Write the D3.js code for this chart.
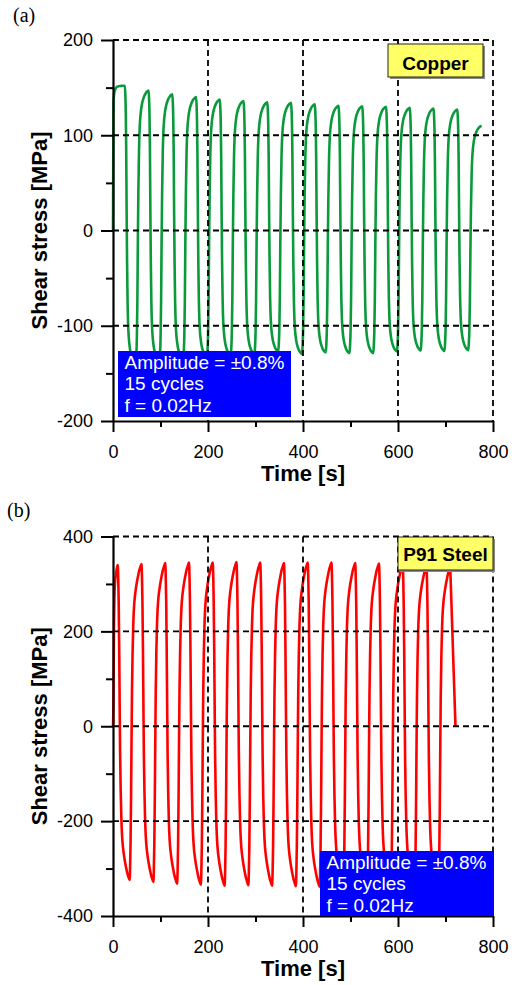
<!DOCTYPE html>
<html>
<head>
<meta charset="utf-8">
<script src="https://cdn.jsdelivr.net/npm/d3@7"></script>
<style>
  body { margin: 0; background: #fff; }
  svg text { font-family: Arial, "Liberation Sans", sans-serif; }
</style>
</head>
<body>
<svg id="chart" width="515" height="985"></svg>
<script>
// ---- data ----
// copper: times [s] and stress [MPa] of each peak / trough
const cuPeakT   = [25, 75, 125, 175, 225, 275, 325, 375, 425, 475, 525, 575, 625, 675, 725];
const cuPeak    = [152, 147, 143, 140, 137.5, 136, 134.5, 134, 132.5, 131, 130.5, 130, 128.7, 128, 127];
const cuTroughT = [48, 98, 148, 198, 248, 298, 348, 398, 448, 498, 548, 598, 648, 698, 748];
const cuTrough  = [-140, -137, -135, -133, -131, -130, -127, -129.5, -128, -128.8, -128.8, -127, -126, -126.5, -125.6];
const cuEnd     = [776, 110];

// P91 steel
const p91PeakT   = [10, 60, 110, 160, 210, 260, 310, 360, 410, 460, 510, 560, 610, 660, 710];
const p91Peak    = [340, 342, 344, 345, 345, 346, 345, 344, 345, 345, 344, 343, 340, 337, 335];
const p91TroughT = [35, 85, 135, 185, 235, 285, 335, 385, 435, 485, 535, 585, 635, 685];
const p91Trough  = [-324, -328, -332, -334, -336, -335, -336, -337, -338, -340, -340, -341, -342, -342];
const p91End     = [721, 0];

// shape of a half cycle: fraction of half-cycle time -> fraction of stress change
const halfU    = [0, 0.04, 0.08, 0.12, 0.16, 0.2, 0.25, 0.3, 0.35, 0.4, 0.5, 0.6, 0.7, 0.8, 0.9, 1];
const cuHalfF  = [0, 0.03, 0.09, 0.22, 0.45, 0.63, 0.78, 0.86, 0.9, 0.925, 0.955, 0.972, 0.984, 0.992, 0.997, 1];
const cuFirstF = [0, 0.88, 0.93, 0.955, 0.97, 0.978, 0.985, 0.99, 0.993, 0.995, 0.997, 0.998, 0.999, 1, 1, 1];
const p91HalfF = [0, 0.04, 0.12, 0.26, 0.44, 0.6, 0.72, 0.8, 0.85, 0.88, 0.915, 0.94, 0.96, 0.978, 0.99, 1];
const linearF  = halfU;

// axes
const timeTicks   = [0, 200, 400, 600, 800];
const timeMinor   = [100, 300, 500, 700];
const cuYTicks    = [-200, -100, 0, 100, 200];
const cuYMinor    = [-150, -50, 50, 150];
const p91YTicks   = [-400, -200, 0, 200, 400];
const p91YMinor   = [-300, -100, 100, 300];
const infoLines   = ["Amplitude = \u00B10.8%", "15 cycles", "f = 0.02Hz"];

// build the stress history from reversal points and the half-cycle shape
function buildCurve(peakT, peak, troughT, trough, end, firstF, halfF, endF) {
  const rev = [[0, 0]];
  peakT.forEach(function(t, i) {
    rev.push([t, peak[i]]);
    if (i < troughT.length) rev.push([troughT[i], trough[i]]);
  });
  rev.push(end);
  const pts = [];
  for (let i = 0; i < rev.length - 1; i++) {
    const a = rev[i], b = rev[i + 1];
    const prof = i === 0 ? firstF : (i === rev.length - 2 ? endF : halfF);
    halfU.forEach(function(u, j) {
      if (i > 0 && j === 0) return;
      pts.push([a[0] + u * (b[0] - a[0]), a[1] + prof[j] * (b[1] - a[1])]);
    });
  }
  return pts;
}

const svg = d3.select("#chart");
const left = 113, right = 493;

function drawPanel(cfg) {
  const x = d3.scaleLinear().domain([0, 800]).range([left, right]);
  const y = d3.scaleLinear().domain(cfg.yDomain).range([cfg.bottom, cfg.top]);
  const g = svg.append("g");

  // data
  g.append("path")
    .datum(cfg.points)
    .attr("fill", "none")
    .attr("stroke", cfg.color)
    .attr("stroke-width", 2.6)
    .attr("stroke-linejoin", "round")
    .attr("d", d3.line().x(d => x(d[0])).y(d => y(d[1])).curve(d3.curveMonotoneX));

  // dashed grid and top/right frame
  const grid = g.append("g")
    .attr("stroke", "#000")
    .attr("stroke-width", 1.8)
    .attr("stroke-dasharray", "6,4");
  [200, 400, 600, 800].forEach(function(v) {
    grid.append("line").attr("x1", x(v)).attr("x2", x(v)).attr("y1", cfg.top).attr("y2", cfg.bottom);
  });
  cfg.yTicks.slice(1).forEach(function(v) {
    grid.append("line").attr("x1", left).attr("x2", right).attr("y1", y(v)).attr("y2", y(v));
  });

  // axes
  g.append("g")
    .attr("transform", `translate(${left},0)`)
    .call(d3.axisLeft(y).tickValues(cfg.yTicks).tickSize(12).tickPadding(8).tickSizeOuter(0)
      .tickFormat(d => String(d)));
  g.append("g")
    .attr("transform", `translate(${left},0)`)
    .call(d3.axisLeft(y).tickValues(cfg.yMinor).tickSize(7).tickFormat("").tickSizeOuter(0))
    .select(".domain").remove();

  g.append("g")
    .attr("transform", `translate(0,${cfg.bottom})`)
    .call(d3.axisBottom(x).tickValues(timeTicks).tickSize(11).tickPadding(13).tickSizeOuter(0)
      .tickFormat(d => String(d)));
  g.append("g")
    .attr("transform", `translate(0,${cfg.bottom})`)
    .call(d3.axisBottom(x).tickValues(timeMinor).tickSize(6).tickFormat("").tickSizeOuter(0))
    .select(".domain").remove();

  g.selectAll(".domain").attr("stroke-width", 2.2);
  g.selectAll(".tick line").attr("stroke-width", 2);
  g.selectAll(".tick text").attr("font-size", 18).attr("fill", "#000");

  // axis titles
  g.append("text")
    .attr("x", (left + right) / 2)
    .attr("y", cfg.bottom + 60)
    .attr("text-anchor", "middle")
    .attr("font-size", 22)
    .attr("font-weight", "bold")
    .text("Time [s]");
  g.append("text")
    .attr("transform", `translate(47,${(cfg.top + cfg.bottom) / 2}) rotate(-90)`)
    .attr("text-anchor", "middle")
    .attr("font-size", 22)
    .attr("font-weight", "bold")
    .text("Shear stress [MPa]");

  // material label
  const lb = cfg.label;
  g.append("rect")
    .attr("x", lb.x + 2).attr("y", lb.y + 2).attr("width", lb.w).attr("height", lb.h)
    .attr("fill", "#888");
  g.append("rect")
    .attr("x", lb.x).attr("y", lb.y).attr("width", lb.w).attr("height", lb.h)
    .attr("fill", "#ffff66").attr("stroke", "#222").attr("stroke-width", 1);
  g.append("text")
    .attr("x", lb.x + lb.w / 2).attr("y", lb.y + lb.base)
    .attr("text-anchor", "middle")
    .attr("font-size", 19)
    .attr("font-weight", "bold")
    .text(lb.text);

  // test conditions box
  const ib = cfg.info;
  g.append("rect")
    .attr("x", ib.x).attr("y", ib.y).attr("width", ib.w).attr("height", ib.h)
    .attr("fill", "#0000ff");
  g.selectAll(".info")
    .data(infoLines)
    .enter()
    .append("text")
    .attr("x", ib.x + 6.5)
    .attr("y", (d, i) => ib.y + 17.5 + i * 21.7)
    .attr("font-size", 19)
    .attr("fill", "#fff")
    .text(d => d);

  // panel letter
  svg.append("text")
    .attr("x", cfg.letterX).attr("y", cfg.letterY)
    .style("font-family", "'Liberation Serif', 'Times New Roman', serif")
    .attr("font-size", 20)
    .text(cfg.letter);
}

drawPanel({
  top: 40, bottom: 421,
  yDomain: [-200, 200], yTicks: cuYTicks, yMinor: cuYMinor,
  color: "#0a9a3c",
  points: buildCurve(cuPeakT, cuPeak, cuTroughT, cuTrough, cuEnd, cuFirstF, cuHalfF, cuHalfF),
  label: { x: 388, y: 44, w: 95, h: 33, base: 26, text: "Copper" },
  info: { x: 118, y: 351, w: 173, h: 66 },
  letter: "(a)", letterX: 13, letterY: 22
});

drawPanel({
  top: 536.5, bottom: 916,
  yDomain: [-400, 400], yTicks: p91YTicks, yMinor: p91YMinor,
  color: "#ff0000",
  points: buildCurve(p91PeakT, p91Peak, p91TroughT, p91Trough, p91End, p91HalfF, p91HalfF, linearF),
  label: { x: 398, y: 537, w: 95, h: 33, base: 23.5, text: "P91 Steel" },
  info: { x: 320, y: 851, w: 174, h: 65 },
  letter: "(b)", letterX: 7, letterY: 517
});
</script>
</body>
</html>
